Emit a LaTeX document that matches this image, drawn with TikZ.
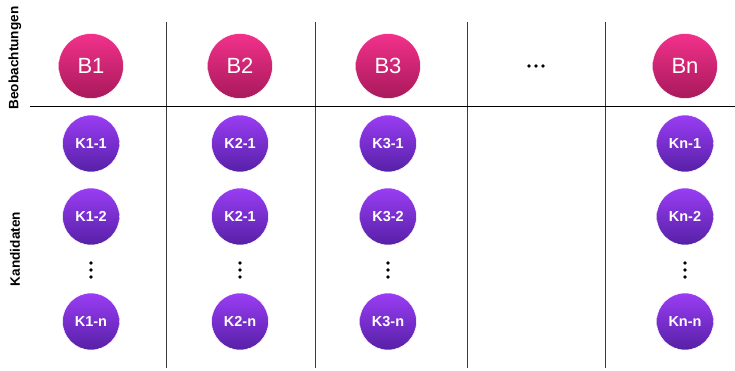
\documentclass[tikz,border=0pt]{standalone}
\usepackage{fontspec}
\setmainfont{Liberation Sans}
\definecolor{pinkTop}{HTML}{F2318B}
\definecolor{pinkBot}{HTML}{A8195B}
\definecolor{purpTop}{HTML}{9A3DF4}
\definecolor{purpBot}{HTML}{5620A6}
\definecolor{gridgray}{HTML}{3A3A3A}
\begin{document}
\begin{tikzpicture}[x=1pt,y=-1pt,
  obs/.style={circle, minimum size=65pt, inner sep=0pt, top color=pinkTop,
    bottom color=pinkBot, draw=white, line width=0.5pt, text=white,
    font=\fontsize{22}{22}\selectfont},
  cand/.style={circle, minimum size=57pt, inner sep=0pt, top color=purpTop,
    bottom color=purpBot, draw=white, line width=0.5pt, text=white,
    font=\bfseries\fontsize{14.5}{14.5}\selectfont},
  axislabel/.style={rotate=90, font=\bfseries\fontsize{13.6}{13.6}\selectfont},
  sep/.style={draw=gridgray, line width=0.9pt},
  dotmark/.style={circle, fill=black, inner sep=0pt, minimum size=3.8pt}]
\useasboundingbox (0,0) rectangle (735,370);

% grid
\coordinate (hl) at (30,106.5);
\coordinate (hr) at (735,106.5);
\foreach \x [count=\i] in {166,315,467,605}{
  \coordinate (vt\i) at (\x,22);
  \coordinate (vb\i) at (\x,368);
  \draw[sep] (vt\i) -- (vb\i);
}
\draw[black, line width=1.8pt] (hl) -- (hr);

% axis labels
\node[axislabel] (lblB) at (15,58) {Beobachtungen};
\node[axislabel] (lblK) at (15,249) {Kandidaten};

% observations
\node[obs] (B1) at (91,66) {B1};
\node[obs] (B2) at (240,66) {B2};
\node[obs] (B3) at (388,66) {B3};
\node[obs] (Bn) at (685,66) {Bn};

% horizontal ellipsis
\foreach \dx [count=\i] in {-7,0,7}
  \node[dotmark] (hd\i) at (536+\dx,66) {};

% candidates
\foreach \x/\c/\a/\b/\n in {91/1/K1-1/K1-2/K1-n, 240/2/K2-1/K2-1/K2-n,
                              388/3/K3-1/K3-2/K3-n, 685/n/Kn-1/Kn-2/Kn-n}{
  \node[cand] (K\c a) at (\x,143.5) {\a};
  \node[cand] (K\c b) at (\x,216.5) {\b};
  \node[cand] (K\c n) at (\x,321.5) {\n};
  \foreach \dy [count=\j] in {-7,0,7}
    \node[dotmark] (vd\c\j) at (\x,270+\dy) {};
}
\end{tikzpicture}
\end{document}
